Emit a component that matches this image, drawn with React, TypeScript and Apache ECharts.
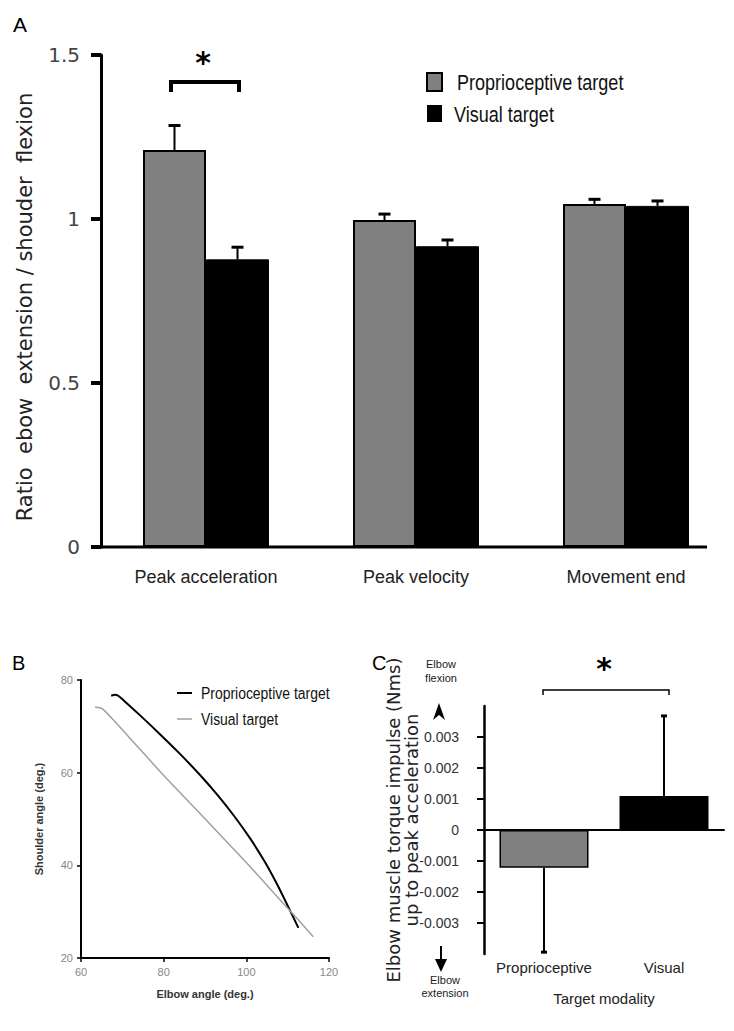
import React, { useEffect, useRef } from 'react';
import * as echarts from 'echarts';

// ---------- Panel A data ----------
const categoriesA = ['Peak acceleration', 'Peak velocity', 'Movement end'];
const propRatio = [1.21, 0.997, 1.046];
const propRatioErrTop = [1.285, 1.015, 1.06];
const visRatio = [0.877, 0.917, 1.04];
const visRatioErrTop = [0.914, 0.936, 1.055];

// ---------- Panel B data ----------
const propElbow = [67.3, 68.2, 69.0, 70.2, 74.5, 79.1, 84.0, 88.8, 93.0, 97.0, 101.0, 104.5, 107.5, 110.0, 112.6];
const propShoulder = [76.6, 76.8, 76.6, 75.7, 72.2, 68.3, 64.0, 59.5, 55.2, 50.7, 45.7, 40.7, 35.8, 31.3, 26.5];
const visElbow = [63.4, 64.5, 65.4, 67.8, 73.5, 79.9, 84.5, 88.8, 94.5, 100.1, 104.5, 108.9, 113.0, 116.2];
const visShoulder = [74.1, 74.0, 73.6, 71.4, 65.8, 59.5, 55.2, 51.2, 45.8, 40.5, 36.2, 31.8, 27.8, 24.6];

// ---------- Panel C data ----------
const categoriesC = ['Proprioceptive', 'Visual'];
const impulseMean = [-0.00122, 0.0011];
const impulseErrEnd = [-0.00394, 0.00368];
const ticksC = [-0.003, -0.002, -0.001, 0, 0.001, 0.002, 0.003];

const DEJAVU = '"DejaVu Sans", Verdana, sans-serif';
const ARIAL = '"Liberation Sans", Arial, sans-serif';

const errorBar = (offset: number, capHalf: number, lw: number) => (params: any, api: any) => {
  const x = api.value(0);
  const from = api.coord([x, api.value(1)]);
  const to = api.coord([x, api.value(2)]);
  const cx = from[0] + offset;
  return {
    type: 'group',
    children: [
      { type: 'line', shape: { x1: cx, y1: from[1], x2: cx, y2: to[1] }, style: { stroke: '#000', lineWidth: lw } },
      { type: 'line', shape: { x1: cx - capHalf, y1: to[1], x2: cx + capHalf, y2: to[1] }, style: { stroke: '#000', lineWidth: lw + 1 } },
    ],
  };
};

const narrowText = (x: number, y: number, text: string, size: number) => ({
  type: 'text', x, y, scaleX: 0.82,
  style: { text, fontSize: size, fontFamily: ARIAL, fill: '#111', verticalAlign: 'middle' },
});

export default function App() {
  const ref = useRef<HTMLDivElement>(null);
  useEffect(() => {
    document.body.style.margin = '0';
    const chart = echarts.init(ref.current!, null, { renderer: 'svg', width: 734, height: 1031 });
    const option: any = {
      animation: false,
      backgroundColor: '#fff',
      grid: [
        { left: 101, top: 55, width: 630, height: 492, outerBoundsMode: 'none', containLabel: false },
        { left: 81, top: 680, width: 248, height: 278, outerBoundsMode: 'none', containLabel: false },
        { left: 484, top: 706, width: 240, height: 248, outerBoundsMode: 'none', containLabel: false },
      ],
      xAxis: [
        {
          gridIndex: 0, type: 'category', data: categoriesA, boundaryGap: true,
          axisLine: { show: false }, axisTick: { show: false },
          axisLabel: { fontSize: 18, fontFamily: ARIAL, color: '#222', margin: 21, interval: 0 },
        },
        {
          gridIndex: 1, type: 'value', min: 60, max: 120, interval: 20,
          axisLine: { lineStyle: { color: '#000', width: 2 } },
          axisTick: { show: true, length: 4, lineStyle: { color: '#000', width: 1.5 } },
          axisLabel: { fontSize: 11, fontFamily: ARIAL, color: '#888', margin: 8 },
          splitLine: { show: false },
          name: 'Elbow angle (deg.)', nameLocation: 'middle', nameGap: 30, nameMoveOverlap: false,
          nameTextStyle: { fontSize: 11, fontWeight: 'bold', fontFamily: ARIAL, color: '#333' },
        },
        {
          gridIndex: 2, type: 'category', data: categoriesC, position: 'bottom',
          axisLine: { onZero: true, lineStyle: { color: '#000', width: 2 } },
          axisTick: { show: false }, axisLabel: { show: false },
        },
        {
          gridIndex: 2, type: 'category', data: categoriesC, position: 'bottom',
          axisLine: { show: false, onZero: false }, axisTick: { show: false },
          axisLabel: { fontSize: 15, fontFamily: ARIAL, color: '#222', margin: 6, interval: 0 },
          name: 'Target modality', nameLocation: 'middle', nameGap: 37, nameMoveOverlap: false,
          nameTextStyle: { fontSize: 15, fontFamily: ARIAL, color: '#222' },
        },
      ],
      yAxis: [
        {
          gridIndex: 0, type: 'value', min: 0, max: 1.5, interval: 0.5,
          axisLine: { show: true, lineStyle: { color: '#000', width: 3 } },
          axisTick: { show: true, length: 10, lineStyle: { color: '#000', width: 4 } },
          axisLabel: { fontSize: 20, fontFamily: DEJAVU, color: '#444', margin: 21 },
          splitLine: { show: false },
          name: 'Ratio  ebow  extension / shouder  flexion', nameLocation: 'middle', nameGap: 66, nameMoveOverlap: false,
          nameTextStyle: { fontSize: 21, fontFamily: DEJAVU, color: '#222', padding: [0, 12, 0, 0] },
        },
        {
          gridIndex: 1, type: 'value', min: 20, max: 80, interval: 20,
          axisLine: { show: true, lineStyle: { color: '#000', width: 2 } },
          axisTick: { show: true, length: 4, lineStyle: { color: '#000', width: 1.5 } },
          axisLabel: { fontSize: 11, fontFamily: ARIAL, color: '#888', margin: 8 },
          splitLine: { show: false },
          name: 'Shoulder angle (deg.)', nameLocation: 'middle', nameGap: 37, nameMoveOverlap: false,
          nameTextStyle: { fontSize: 11, fontWeight: 'bold', fontFamily: ARIAL, color: '#333' },
        },
        {
          gridIndex: 2, type: 'value', min: -0.004, max: 0.004, interval: 0.001,
          axisLine: { show: true, lineStyle: { color: '#000', width: 2.5 } },
          axisTick: { show: true, length: 7, lineStyle: { color: '#000', width: 2 }, customValues: ticksC },
          axisLabel: {
            fontSize: 14, fontFamily: ARIAL, color: '#333', margin: 25,
            formatter: (v: number) => (Math.abs(v) > 0.0035 ? '' : Math.abs(v) < 1e-9 ? '0' : v.toFixed(3)),
          },
          splitLine: { show: false },
          name: 'Elbow muscle torque impulse (Nms)\nup to peak acceleration', nameLocation: 'middle', nameGap: 64,
          nameMoveOverlap: false,
          nameTextStyle: { fontSize: 18, lineHeight: 18, fontFamily: DEJAVU, color: '#222', padding: [0, 0, 0, 20] },
        },
      ],
      series: [
        {
          name: 'Proprioceptive target', type: 'bar', xAxisIndex: 0, yAxisIndex: 0, data: propRatio,
          barWidth: 63, barGap: '0%',
          itemStyle: { color: '#808080', borderColor: '#000', borderWidth: 2 },
        },
        {
          name: 'Visual target', type: 'bar', xAxisIndex: 0, yAxisIndex: 0, data: visRatio,
          barWidth: 63, barGap: '0%',
          itemStyle: { color: '#000', borderColor: '#000', borderWidth: 1 },
        },
        {
          type: 'custom', xAxisIndex: 0, yAxisIndex: 0, renderItem: errorBar(-31.5, 6, 2),
          encode: { x: 0, y: [1, 2] }, z: 5,
          data: propRatio.map((v, i) => [i, v, propRatioErrTop[i]]),
        },
        {
          type: 'custom', xAxisIndex: 0, yAxisIndex: 0, renderItem: errorBar(31.5, 6, 2),
          encode: { x: 0, y: [1, 2] }, z: 5,
          data: visRatio.map((v, i) => [i, v, visRatioErrTop[i]]),
        },
        {
          name: 'Proprioceptive target', type: 'line', xAxisIndex: 1, yAxisIndex: 1,
          data: propElbow.map((x, i) => [x, propShoulder[i]]), smooth: 0.25, showSymbol: false,
          lineStyle: { color: '#000', width: 2 },
        },
        {
          name: 'Visual target', type: 'line', xAxisIndex: 1, yAxisIndex: 1,
          data: visElbow.map((x, i) => [x, visShoulder[i]]), smooth: 0.25, showSymbol: false,
          lineStyle: { color: '#a0a0a0', width: 1.5 },
        },
        {
          type: 'bar', xAxisIndex: 2, yAxisIndex: 2, barWidth: 89,
          data: [
            { value: impulseMean[0], itemStyle: { color: '#808080', borderColor: '#000', borderWidth: 1.5 } },
            { value: impulseMean[1], itemStyle: { color: '#000' } },
          ],
        },
        {
          type: 'custom', xAxisIndex: 2, yAxisIndex: 2, renderItem: errorBar(0, 3, 2),
          encode: { x: 0, y: [1, 2] }, z: 5,
          data: impulseMean.map((v, i) => [i, v, impulseErrEnd[i]]),
        },
      ],
      graphic: [
        // panel letters
        { type: 'text', x: 13, y: 14, style: { text: 'A', fontSize: 21, fontFamily: ARIAL, fill: '#000' } },
        { type: 'text', x: 12, y: 653, style: { text: 'B', fontSize: 20, fontFamily: ARIAL, fill: '#000' } },
        { type: 'text', x: 372, y: 653, style: { text: 'C', fontSize: 20, fontFamily: ARIAL, fill: '#000' } },
        // panel A x-axis line
        { type: 'line', shape: { x1: 100, y1: 547, x2: 707, y2: 547 }, style: { stroke: '#000', lineWidth: 3 } },
        // panel A bracket
        { type: 'polyline', shape: { points: [[171, 92], [171, 82], [239, 82], [239, 92]] }, style: { stroke: '#000', lineWidth: 4, fill: 'none' } },
        { type: 'text', x: 203, y: 62, style: { text: '*', fontSize: 30, fontWeight: 'bold', fontFamily: DEJAVU, fill: '#000', align: 'center', verticalAlign: 'middle' } },
        // panel A legend
        { type: 'rect', shape: { x: 427, y: 73, width: 15, height: 18 }, style: { fill: '#808080', stroke: '#000', lineWidth: 2 } },
        narrowText(457, 82, 'Proprioceptive target', 22),
        { type: 'rect', shape: { x: 427, y: 105, width: 15, height: 17 }, style: { fill: '#000' } },
        narrowText(454, 114, 'Visual target', 22),
        // panel B legend
        { type: 'line', shape: { x1: 177, y1: 693, x2: 192, y2: 693 }, style: { stroke: '#000', lineWidth: 2 } },
        narrowText(201, 693, 'Proprioceptive target', 17),
        { type: 'line', shape: { x1: 177, y1: 719, x2: 192, y2: 719 }, style: { stroke: '#a0a0a0', lineWidth: 1.5 } },
        narrowText(201, 719, 'Visual target', 17),
        // panel C bracket
        { type: 'polyline', shape: { points: [[543, 695], [543, 690], [669, 690], [669, 695]] }, style: { stroke: '#000', lineWidth: 1.5, fill: 'none' } },
        { type: 'text', x: 604, y: 668, style: { text: '*', fontSize: 30, fontWeight: 'bold', fontFamily: DEJAVU, fill: '#000', align: 'center', verticalAlign: 'middle' } },
        // panel C direction annotations
        { type: 'text', x: 441, y: 664, style: { text: 'Elbow', fontSize: 11, fontFamily: ARIAL, fill: '#222', align: 'center', verticalAlign: 'middle' } },
        { type: 'text', x: 441, y: 678, style: { text: 'flexion', fontSize: 11, fontFamily: ARIAL, fill: '#222', align: 'center', verticalAlign: 'middle' } },
        { type: 'polygon', shape: { points: [[439, 703], [445, 720], [439, 715], [433, 720]] }, style: { fill: '#000' } },
        { type: 'line', shape: { x1: 441, y1: 946, x2: 441, y2: 962 }, style: { stroke: '#000', lineWidth: 2 } },
        { type: 'polygon', shape: { points: [[435, 959], [447, 959], [441, 972]] }, style: { fill: '#000' } },
        { type: 'text', x: 445, y: 980, style: { text: 'Elbow', fontSize: 11, fontFamily: ARIAL, fill: '#222', align: 'center', verticalAlign: 'middle' } },
        { type: 'text', x: 445, y: 993, style: { text: 'extension', fontSize: 11, fontFamily: ARIAL, fill: '#222', align: 'center', verticalAlign: 'middle' } },
      ],
    };
    chart.setOption(option);
    return () => chart.dispose();
  }, []);
  return <div ref={ref} style={{ width: 734, height: 1031, position: 'absolute', left: 0, top: 0 }} />;
}
